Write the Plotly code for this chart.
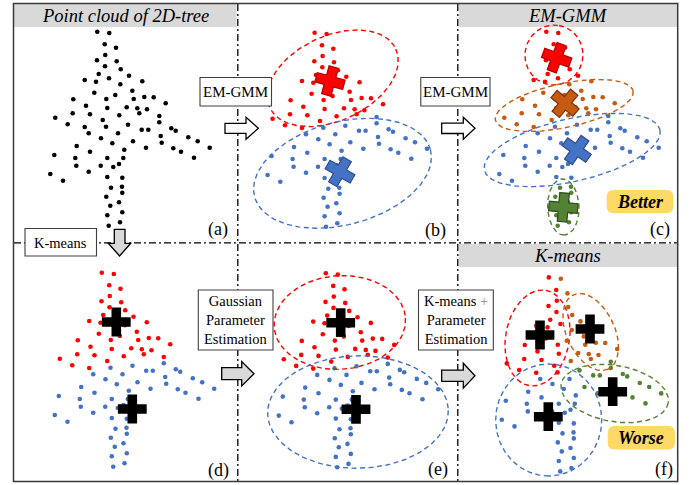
import math
import plotly.graph_objects as go

W, H = 697, 485
FONT = "'Liberation Serif', 'Times New Roman', Times, serif"
RED, BLUE, ORANGE, GREEN = "#ff0000", "#4472c4", "#c55a11", "#548235"
DARK = {RED: "#b00000", BLUE: "#2f4f8f", ORANGE: "#7a3409", GREEN: "#2f4a1c"}

# ---- point cloud of the 2D tree (panel a, pixel units, y downward) ----
cloud_x = [97.3, 109.3, 104.7, 116, 105.3, 97, 116.7, 105, 120.7, 98.7,
           129, 109, 84.7, 142.3, 96, 120.3, 132.3, 94.3, 115.3, 144.3,
           153.7, 106.3, 133.7, 73.3, 165.7, 86, 126.7, 107.3, 137.3, 147,
           72.7, 139.3, 90, 119.3, 159.3, 55.3, 102.7, 159.3, 67.7, 128,
           106, 84.7, 171.3, 141.7, 148.3, 175.7, 88.7, 118, 160.7, 188.3,
           101, 133, 197.7, 161.7, 112.3, 76.7, 146, 173.3, 209.7, 124.3,
           90, 181, 54.3, 75.3, 107.3, 123.3, 194, 76.3, 100.7, 119,
           113.3, 88.7, 50.3, 63, 107.3, 122.3, 111, 122, 106.3, 122.3,
           110.3, 119, 107.3, 122.3, 108.7, 120]
cloud_y = [31.7, 33, 44.3, 47.7, 55, 60.3, 61.3, 66.3, 69.3, 74,
           75.7, 78.3, 80, 81.3, 81.7, 84.3, 90.7, 92.7, 95, 97,
           97.3, 99, 99, 99.3, 103.3, 105.7, 107.3, 108, 108.3, 109.3,
           113.3, 113.3, 114.3, 115.3, 116, 117.7, 120, 122.3, 124.3, 124.7,
           126.7, 127, 128.3, 129.7, 129.7, 130.7, 133.3, 133.3, 136, 137.3,
           138.3, 141.3, 141.3, 142.7, 143.3, 146, 147.7, 148.3, 147.7, 149.7,
           151.7, 151.7, 155, 158, 158, 158, 157.7, 165.7, 165.7, 164,
           167, 171.7, 174, 180.7, 177, 177.7, 187.7, 186.7, 196.7, 192.7,
           205.7, 202.3, 215.3, 212.3, 225.7, 222.3]

# cluster memberships (indices into the cloud)
gmm2_red = list(range(0, 34)) + [35, 36, 38, 41]          # panel b
km2_red = list(range(0, 37)) + [38, 41]                   # panels d, e
gmm4_red = list(range(0, 13)) + [14]                      # panel c
gmm4_orange = [13] + list(range(15, 34)) + [35, 36, 38, 41]
gmm4_green = list(range(76, 86))

# cluster centres (local coords)
b_centers = [(112.7, 80, RED, 15), (122.7, 170.7, BLUE, 30)]
c_centers = [(107.7, 57.7, RED, 20), (116, 103.3, ORANGE, 40),
             (127.7, 150, BLUE, 35), (114.3, 207.3, GREEN, 5)]
d_centers = [(111.8, 81), (127.8, 168)]
e_centers = [(112.2, 81.1), (127.5, 167.7)]
f_centers = [(88.5, 89.3, RED), (138.5, 83.3, ORANGE), (96.8, 171, BLUE), (161.2, 146, GREEN)]

# covariance ellipses: (cx, cy, semi-major, semi-minor, angle deg, colour)
b_ellipses = [(115.5, 77.3, 69.5, 42.3, -25, RED), (125.2, 172.3, 91, 51.4, -15, BLUE)]
c_ellipses = [(105, 55, 30, 29, -80, RED), (115.2, 105.5, 70.4, 22, -12, ORANGE),
              (123.2, 150, 90, 31.4, -13, BLUE), (114.3, 207, 28, 15.7, 88, GREEN)]
e_ellipses = [(111.3, 80.9, 65.8, 46.8, -4, RED), (129.5, 170.4, 90.3, 56.2, -1, BLUE)]
f_ellipses = [(86, 92.3, 48.4, 31.9, -80, RED), (139.2, 86.3, 41, 24, 65, ORANGE),
              (97.2, 174.3, 56, 53, 90, BLUE), (163.2, 147.8, 54.3, 28.1, 10, GREEN)]

# panel offsets (layout)
OFF = {"a": (0, 0), "b": (217.3, 1), "c": (449, 0),
       "d": (4.5, 241), "e": (228.5, 241.6), "f": (451.5, 245.7)}

N = len(cloud_x)
fig = go.Figure()


def labels_from(sets, default):
    lab = [default] * N
    for idx, col in sets:
        for i in idx:
            lab[i] = col
    return lab


def add_points(panel, colors):
    ox, oy = OFF[panel]
    groups = {}
    for i in range(N):
        groups.setdefault(colors[i], []).append(i)
    for col, idx in groups.items():
        fig.add_trace(go.Scatter(
            x=[cloud_x[i] + ox for i in idx], y=[cloud_y[i] + oy for i in idx],
            mode="markers", marker=dict(size=4.6, color=col, line=dict(width=0)),
            hoverinfo="skip"))


def add_ellipse(panel, e):
    ox, oy = OFF[panel]
    cx, cy, a, b, ang, col = e
    th = math.radians(ang)
    ts = [2 * math.pi * k / 160 for k in range(161)]
    xs = [cx + ox + a * math.cos(t) * math.cos(th) - b * math.sin(t) * math.sin(th) for t in ts]
    ys = [cy + oy + a * math.cos(t) * math.sin(th) + b * math.sin(t) * math.cos(th) for t in ts]
    fig.add_trace(go.Scatter(x=xs, y=ys, mode="lines",
                             line=dict(color=col, width=1.4, dash="5px,3.5px"),
                             hoverinfo="skip"))


def add_cross(panel, x, y, col, ang=0, outline=True):
    ox, oy = OFF[panel]
    fig.add_trace(go.Scatter(
        x=[x + ox], y=[y + oy], mode="markers",
        marker=dict(symbol="cross", size=24, color=col, angle=ang,
                    line=dict(width=1.2 if outline else 0, color=DARK.get(col, col))),
        hoverinfo="skip"))


# panel a
add_points("a", ["#000000"] * N)
# panel b
add_points("b", labels_from([(gmm2_red, RED)], BLUE))
for e in b_ellipses:
    add_ellipse("b", e)
for (x, y, col, ang) in b_centers:
    add_cross("b", x, y, col, ang)
# panel c
add_points("c", labels_from([(gmm4_red, RED), (gmm4_orange, ORANGE), (gmm4_green, GREEN)], BLUE))
for e in c_ellipses:
    add_ellipse("c", e)
for (x, y, col, ang) in c_centers:
    add_cross("c", x, y, col, ang)
# panel d
km2 = labels_from([(km2_red, RED)], BLUE)
add_points("d", km2)
for (x, y) in d_centers:
    add_cross("d", x, y, "#000000", 0, outline=False)
# panel e
add_points("e", km2)
for e in e_ellipses:
    add_ellipse("e", e)
for (x, y) in e_centers:
    add_cross("e", x, y, "#000000", 0, outline=False)
# panel f : K-means, nearest centre
f_lab = []
for i in range(N):
    best = min(f_centers, key=lambda c: (cloud_x[i] - c[0]) ** 2 + (cloud_y[i] - c[1]) ** 2)
    f_lab.append(best[2])
add_points("f", f_lab)
for e in f_ellipses:
    add_ellipse("f", e)
for (x, y, col) in f_centers:
    add_cross("f", x, y, "#000000", 0, outline=False)

# ---------------- layout decorations ----------------
shapes = []
# header bars
for (x0, y0, x1, y1) in [(14, 4, 236.5, 27), (459, 4, 677, 27), (459, 244, 677, 267)]:
    shapes.append(dict(type="rect", x0=x0, y0=y0, x1=x1, y1=y1, fillcolor="#d9d9d9",
                       line=dict(width=0), layer="below"))
# dash-dot separators
dd = dict(color="#000000", width=1.3, dash="7px,3px,2px,3px")
shapes.append(dict(type="line", x0=237.8, x1=237.8, y0=4, y1=481, line=dd, layer="below"))
shapes.append(dict(type="line", x0=457.8, x1=457.8, y0=4, y1=481, line=dd, layer="below"))
shapes.append(dict(type="line", x0=14, x1=677, y0=242.8, y1=242.8, line=dd, layer="below"))
# outer border
shapes.append(dict(type="rect", x0=13.5, y0=3.5, x1=677.7, y1=481.5,
                   line=dict(color="#3a3a3a", width=1.5), layer="above"))


def arrow_right(x0, xb, xt, yc, hb, hh, fill):
    p = (f"M{x0},{yc - hb} L{xb},{yc - hb} L{xb},{yc - hh} L{xt},{yc} "
         f"L{xb},{yc + hh} L{xb},{yc + hb} L{x0},{yc + hb} Z")
    return dict(type="path", path=p, fillcolor=fill, line=dict(color="#000000", width=1.3), layer="above")


shapes.append(arrow_right(225, 246, 258.3, 128.3, 5, 11, "#ffffff"))
shapes.append(arrow_right(441.7, 463.3, 475, 128.3, 5.2, 11, "#ffffff"))
shapes.append(arrow_right(221.7, 241.7, 254, 373.7, 6, 12.2, "#d9d9d9"))
shapes.append(arrow_right(441.7, 463.3, 475, 375.7, 5.6, 12.5, "#d9d9d9"))
# down arrow
shapes.append(dict(type="path",
                   path="M114.3,229.3 L125,229.3 L125,243.3 L130.7,243.3 L119.6,256 L108.3,243.3 L114.3,243.3 Z",
                   fillcolor="#d9d9d9", line=dict(color="#000000", width=1.3), layer="above"))
# text boxes
for (x0, y0, x1, y1) in [(200, 77.5, 271.5, 106), (420.8, 77.5, 490, 106), (25, 228.5, 96.5, 256),
                         (198.3, 290, 273, 350), (418.5, 290, 493.3, 350)]:
    shapes.append(dict(type="rect", x0=x0, y0=y0, x1=x1, y1=y1, fillcolor="#ffffff",
                       line=dict(color="#404040", width=1.1), layer="above"))


def rrect(x0, y0, x1, y1, r):
    return (f"M{x0 + r},{y0} L{x1 - r},{y0} Q{x1},{y0} {x1},{y0 + r} L{x1},{y1 - r} "
            f"Q{x1},{y1} {x1 - r},{y1} L{x0 + r},{y1} Q{x0},{y1} {x0},{y1 - r} "
            f"L{x0},{y0 + r} Q{x0},{y0} {x0 + r},{y0} Z")


for (x0, y0, x1, y1) in [(606.7, 190, 673.3, 213.3), (607.7, 426, 675, 449.5)]:
    shapes.append(dict(type="path", path=rrect(x0, y0, x1, y1, 7), fillcolor="#ffd966",
                       line=dict(width=0), layer="above"))

ann = []


def txt(x, y, s, size, **kw):
    ann.append(dict(x=x, y=y, xref="x", yref="y", text=s, showarrow=False,
                    font=dict(family=FONT, size=size, color="#000000"),
                    xanchor="center", yanchor="middle", **kw))


txt(125.5, 15.5, "<i>Point cloud of 2D-tree</i>", 18.5)
txt(568, 15.5, "<i>EM-GMM</i>", 18.5)
txt(567, 255.5, "<i>K-means</i>", 18.5)
txt(235.8, 92, "EM-GMM", 15)
txt(455.4, 92, "EM-GMM", 15)
txt(60.8, 242.5, "K-means", 14.5)
txt(235.6, 320, "Gaussian<br>Parameter<br>Estimation", 14.5)
txt(455.9, 320, "K-means <span style='color:#8c8c8c'>+</span><br>Parameter<br>Estimation", 14.5)
txt(640, 202, "<b><i>Better</i></b>", 18)
txt(641.3, 438, "<b><i>Worse</i></b>", 18)
for (lx, ly, s) in [(218.3, 229.5, "(a)"), (435.5, 230, "(b)"), (659.5, 229.5, "(c)"),
                    (218.3, 470, "(d)"), (437.5, 469.5, "(e)"), (663.5, 469.5, "(f)")]:
    txt(lx, ly, s, 18)

fig.update_layout(
    width=W, height=H, margin=dict(l=0, r=0, t=0, b=0),
    paper_bgcolor="#ffffff", plot_bgcolor="#ffffff", showlegend=False,
    font=dict(family=FONT),
    xaxis=dict(range=[0, W], visible=False, fixedrange=True),
    yaxis=dict(range=[H, 0], visible=False, fixedrange=True),
    shapes=shapes, annotations=ann)

fig.write_html("out.html", config={"displayModeBar": False},
               post_script="document.body.style.margin='0';document.body.style.padding='0';")
